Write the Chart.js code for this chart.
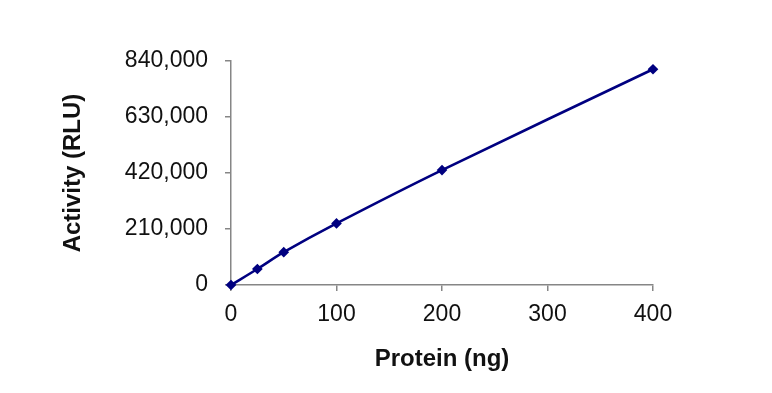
<!DOCTYPE html>
<html>
<head>
  <meta charset="UTF-8">
  <title>Activity vs Protein</title>
  <script src="https://cdn.jsdelivr.net/npm/chart.js"></script>
  <style>
    body { margin: 0; background: #fff; }
  </style>
</head>
<body>
  <canvas id="activityChart" width="772" height="393"></canvas>
  <script>
    // data
    const proteinNg = [0, 25, 50, 100, 200, 400];
    const activityRlu = [0, 60000, 123000, 231000, 431000, 809000];
    const xTicks = [0, 100, 200, 300, 400];
    const yTicks = [0, 210000, 420000, 630000, 840000];

    const axisGray = '#868686';
    const navy = '#000080';

    const points = proteinNg.map((x, i) => ({ x: x, y: activityRlu[i] }));

    const ctx = document.getElementById('activityChart').getContext('2d');
    new Chart(ctx, {
      type: 'line',
      data: {
        datasets: [{
          label: 'Activity',
          data: points,
          borderColor: navy,
          backgroundColor: navy,
          borderWidth: 2.6,
          pointStyle: 'rectRot',
          pointRadius: 3.5,
          pointHoverRadius: 3.5,
          tension: 0.35,
          fill: false,
          clip: false
        }]
      },
      options: {
        responsive: false,
        animation: false,
        layout: { padding: { left: 55, right: 119, top: 61, bottom: 15 } },
        plugins: {
          legend: { display: false },
          tooltip: { enabled: false }
        },
        scales: {
          x: {
            type: 'linear',
            min: xTicks[0],
            max: xTicks[xTicks.length - 1],
            afterBuildTicks: s => { s.ticks = xTicks.map(v => ({ value: v })); },
            afterFit: s => { s.height = 93; },
            border: { color: axisGray, width: 1.5 },
            grid: { drawOnChartArea: false, drawTicks: true, tickLength: 6, color: axisGray, lineWidth: 1.5 },
            ticks: {
              color: '#111',
              padding: 10,
              maxRotation: 0,
              font: { family: 'Arial, "Liberation Sans", sans-serif', size: 23 }
            },
            title: {
              display: true,
              text: 'Protein (ng)',
              color: '#111',
              font: { family: 'Arial, "Liberation Sans", sans-serif', size: 24, weight: 'bold' }
            }
          },
          y: {
            type: 'linear',
            min: yTicks[0],
            max: yTicks[yTicks.length - 1],
            afterBuildTicks: s => { s.ticks = yTicks.map(v => ({ value: v })); },
            afterFit: s => { s.width = 176; },
            border: { color: axisGray, width: 1.5 },
            grid: { drawOnChartArea: false, drawTicks: true, tickLength: 6, color: axisGray, lineWidth: 1.5 },
            ticks: {
              color: '#111',
              padding: 17,
              callback: v => v.toLocaleString('en-US'),
              font: { family: 'Arial, "Liberation Sans", sans-serif', size: 23 }
            },
            title: {
              display: true,
              text: 'Activity (RLU)',
              color: '#111',
              font: { family: 'Arial, "Liberation Sans", sans-serif', size: 24, weight: 'bold' }
            }
          }
        }
      }
    });
  </script>
</body>
</html>
